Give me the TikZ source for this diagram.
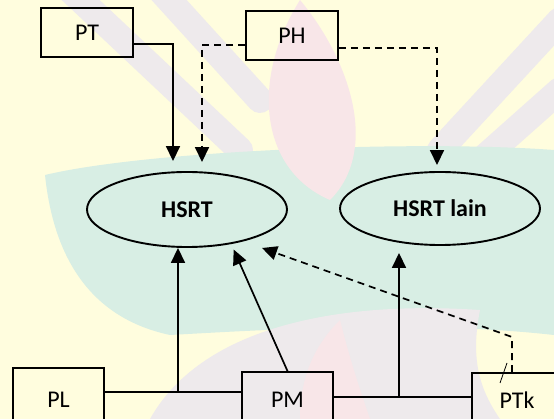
\documentclass[tikz,border=0pt]{standalone}
\usepackage{fontspec}
\setmainfont{Carlito}
\usetikzlibrary{arrows.meta,shapes.geometric}
\definecolor{bgyellow}{RGB}{255,253,222}
\definecolor{wmteal}{RGB}{216,238,228}
\definecolor{wmpink}{RGB}{248,230,232}
\definecolor{wmlav}{RGB}{238,234,236}
\tikzset{
  box/.style={draw, line width=1.8pt, rectangle, minimum width=92pt, inner sep=0pt, font=\fontsize{24}{28}\selectfont},
  oval/.style={draw, line width=1.9pt, ellipse, inner sep=0pt, font=\bfseries\fontsize{24}{28}\selectfont},
  conn/.style={line width=1.7pt},
  arr/.style={conn, -{Triangle[width=14pt,length=15pt]}},
  darr/.style={arr, dash pattern=on 7pt off 5pt},
  wmband/.style={line width=26pt, line cap=round, wmlav}
}
\begin{document}
\begin{tikzpicture}[x=1pt,y=-1pt]
\useasboundingbox (0,0) rectangle (554,419);
\clip (0,0) rectangle (554,419);
% background and watermark
\fill[bgyellow] (0,0) rectangle (554,419);
\draw[wmband] (70,-10) -- (240,150);
\draw[wmband] (160,-10) -- (260,100);
\draw[wmband] (560,20) -- (440,150);
\draw[wmband] (560,90) -- (470,170);
\fill[wmteal] (45,175) .. controls (150,150) and (420,140) .. (554,150) -- (554,335)
  .. controls (420,320) and (260,330) .. (170,335)
  .. controls (100,320) and (55,270) .. (45,175) -- cycle;
\fill[wmpink] (300,0) .. controls (250,80) and (260,170) .. (330,200)
  .. controls (380,150) and (350,60) .. (300,0) -- cycle;
\fill[wmlav] (150,419) .. controls (200,330) and (330,300) .. (480,310)
  .. controls (470,360) and (480,390) .. (500,419) -- cycle;
\fill[wmpink] (300,419) .. controls (300,370) and (320,340) .. (340,320)
  .. controls (350,360) and (360,390) .. (370,419) -- cycle;
% nodes
\node[box, minimum height=49pt] (PT) at (87,32.5) {PT};
\node[box, minimum height=49pt] (PH) at (292,35.5) {PH};
\node[oval, minimum width=200pt, minimum height=75pt] (HSRT) at (187,209.5) {HSRT};
\node[oval, minimum width=200pt, minimum height=73pt] (HSRTlain) at (440,208.5) {HSRT lain};
\node[box, minimum height=64pt, minimum width=91pt] (PL) at (58.5,400) {PL};
\node[box, minimum height=56pt, minimum width=91pt] (PM) at (287.5,400) {PM};
\node[box, minimum height=54pt, minimum width=90pt] (PTk) at (517,400) {PTk};
% coordinates
\coordinate (j1) at (178,392);
\coordinate (j2) at (399,397);
\coordinate (k1) at (512,337);
\coordinate (t3) at (262,248);
% connectors
\draw[arr, shorten >=10pt] (PT.east |- 0,44) -| ([xshift=-14pt]HSRT.north);
\draw[darr, shorten >=9pt] (PH.west |- 0,45) -| ([xshift=15pt]HSRT.north);
\draw[darr, shorten >=6pt] (PH.east |- 0,48) -| ([xshift=-3pt]HSRTlain.north);
\draw[conn] (PL.east |- j1) -- (PM.west |- j1);
\draw[arr] (j1) -- (j1 |- HSRT.south);
\draw[arr, shorten >=6pt] (PM.north) -- (HSRT.-38);
\draw[conn] (PM.east |- j2) -- (PTk.west |- j2);
\draw[arr, shorten >=7pt] (j2) -- (j2 |- HSRTlain.south);
\draw[darr] (PTk.north -| k1) -- (k1) -- (t3);
\draw[line width=0.8pt] (500,383) -- (507,363);
\end{tikzpicture}
\end{document}
